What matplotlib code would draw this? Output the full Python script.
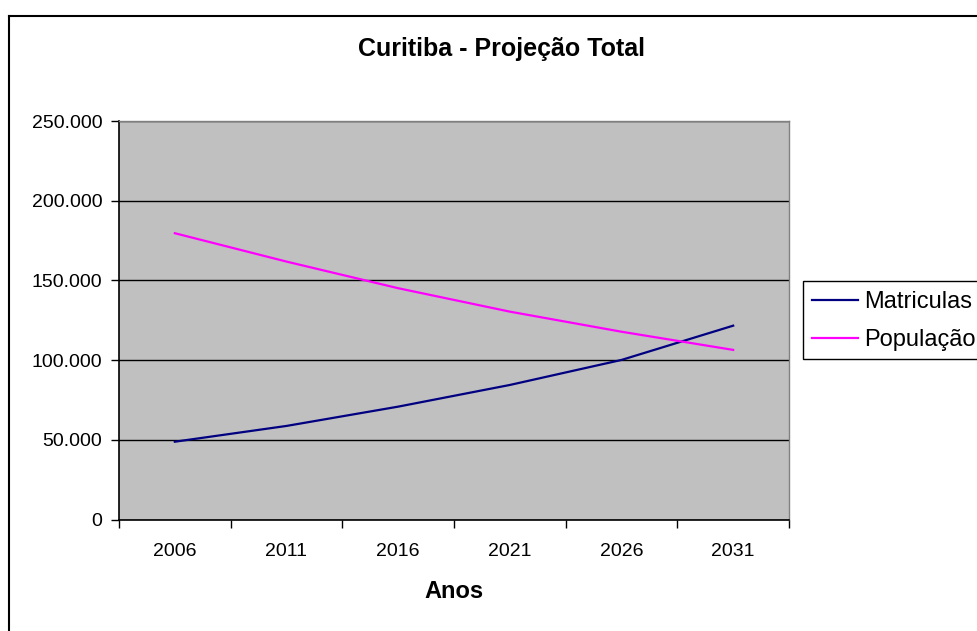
import matplotlib.pyplot as plt
from matplotlib.lines import Line2D
from matplotlib.patches import Rectangle
from matplotlib.ticker import FuncFormatter

plt.rcParams['font.family'] = ['Liberation Sans', 'DejaVu Sans']

anos = ['2006', '2011', '2016', '2021', '2026', '2031']
matriculas = [48800, 58700, 70800, 84400, 100100, 121600]
populacao = [179600, 161800, 145100, 130400, 117800, 106400]

W, H = 977, 631
fig = plt.figure(figsize=(W / 100, H / 100), dpi=100)
ax = fig.add_axes([119 / W, 1 - 519.5 / H, (789 - 119) / W, (519.5 - 121) / H])
ax.set_facecolor('#C0C0C0')

x = list(range(len(anos)))
ax.plot(x, matriculas, color='#000080', lw=1.6, label='Matriculas')
ax.plot(x, populacao, color='#FF00FF', lw=1.6, label='População')

ax.set_xlim(-0.5, len(anos) - 0.5)
ax.set_ylim(0, 250000)
ax.set_yticks(range(0, 250001, 50000))
ax.yaxis.set_major_formatter(FuncFormatter(lambda v, p: f'{int(v):,}'.replace(',', '.')))
ax.grid(axis='y', color='black', lw=1)
ax.set_axisbelow(True)

# categorias: rótulos no centro, marcas nas divisões
ax.set_xticks(x)
ax.set_xticklabels(anos)
ax.set_xticks([i - 0.5 for i in range(len(anos) + 1)], minor=True)
ax.tick_params(axis='x', which='major', length=0, pad=17, labelsize=14)
ax.tick_params(axis='x', which='minor', length=6, width=1, direction='out')
ax.tick_params(axis='y', length=6, width=1, direction='out', pad=6, labelsize=14)

for s in ['top', 'right']:
    ax.spines[s].set_color('#808080')
    ax.spines[s].set_linewidth(1)
for s in ['left', 'bottom']:
    ax.spines[s].set_color('black')
    ax.spines[s].set_linewidth(1.2)

fig.text(501 / W, 1 - 49 / H, 'Curitiba - Projeção Total',
         ha='center', va='center', fontsize=18, fontweight='bold')
fig.text(0.5 * (119 + 789) / W, 1 - 592 / H, 'Anos',
         ha='center', va='center', fontsize=17, fontweight='bold')

# caixa da legenda (sai pela borda direita, como no original)
fig.add_artist(Rectangle((803 / W, 1 - 359 / H), 200 / W, 78 / H, transform=fig.transFigure,
                         facecolor='white', edgecolor='black', lw=1))
leg = fig.legend(loc='upper left', bbox_to_anchor=(812 / W, 1 - 291.5 / H),
                 fontsize=17, frameon=False,
                 handlelength=1.95, handletextpad=0.25, borderpad=0,
                 labelspacing=0.66, borderaxespad=0)

# moldura externa do gráfico
fig.add_artist(Line2D([8.5 / W, 8.5 / W], [0, 1 - 15.5 / H], color='black', lw=1.5,
                      transform=fig.transFigure))
fig.add_artist(Line2D([8.5 / W, 1], [1 - 15.5 / H, 1 - 15.5 / H], color='black', lw=1.5,
                      transform=fig.transFigure))

fig.savefig('out.png', dpi=100)
